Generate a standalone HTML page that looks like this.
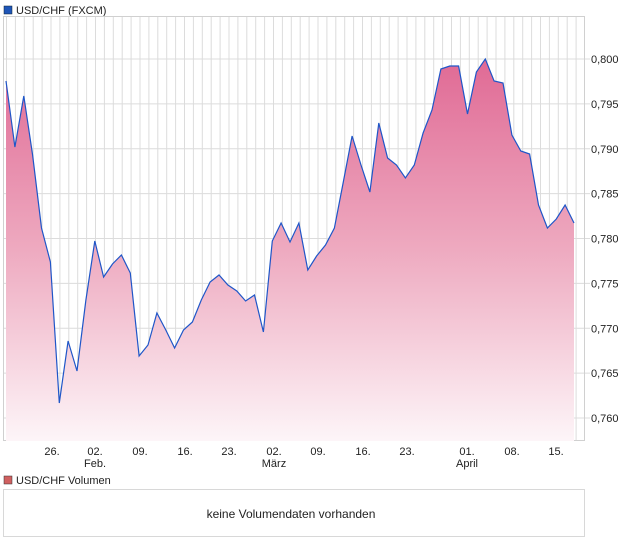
<!DOCTYPE html>
<html><head><meta charset="utf-8"><style>
body{margin:0;width:620px;height:546px;background:#fff;font-family:"Liberation Sans",sans-serif;overflow:hidden}
svg{position:absolute;left:0;top:0}
</style></head><body>
<svg width="620" height="546" viewBox="0 0 620 546" font-family="Liberation Sans, sans-serif" font-size="11" fill="#222">
<defs>
<linearGradient id="g" x1="0" y1="59" x2="0" y2="441" gradientUnits="userSpaceOnUse">
<stop offset="0" stop-color="#e06a95"/>
<stop offset="0.5" stop-color="#eeaac0"/>
<stop offset="1" stop-color="#fdf5f8"/>
</linearGradient>
</defs>
<rect x="4" y="6" width="8" height="8" fill="#1f56b8" stroke="#123" stroke-width="0.5"/>
<text x="16" y="14">USD/CHF (FXCM)</text>
<g stroke="#dcdcdc" stroke-width="1" id="grid"></g>
<rect x="3.5" y="16.5" width="581" height="424" fill="none" stroke="#d0d0d0"/>
<path id="area" fill="url(#g)"/>
<path id="line" fill="none" stroke="#1f56c8" stroke-width="1.2"/>
<g font-size="11" id="ylab"></g>
<g text-anchor="middle" font-size="11">
<text x="52" y="455">26.</text><text x="95" y="455">02.</text><text x="95" y="467">Feb.</text>
<text x="140" y="455">09.</text><text x="185" y="455">16.</text><text x="229" y="455">23.</text>
<text x="274" y="455">02.</text><text x="274" y="467">März</text>
<text x="318" y="455">09.</text><text x="363" y="455">16.</text><text x="407" y="455">23.</text>
<text x="467" y="455">01.</text><text x="467" y="467">April</text>
<text x="512" y="455">08.</text><text x="556" y="455">15.</text>
</g>
<rect x="4" y="476" width="8" height="8" fill="#d06060" stroke="#333" stroke-width="0.5"/>
<text x="16" y="484">USD/CHF Volumen</text>
<rect x="3.5" y="489.5" width="581" height="47" fill="none" stroke="#d8d8d8"/>
<text x="291" y="518" text-anchor="middle" font-size="12">keine Volumendaten vorhanden</text>
</svg>
<script>
var ys=[81,147,96,155,228,262,403,341,371,300,241,277,264,255,273,356,345,313,330,348,330,322,300,282,275,285,291,301,295,332,241,223,242,223,270,256,245,228,182,136,165,192,123,158,165,178,165,133,110,69,66,66,114,72,59,81,83,135,151,154,205,228,219,205,223];
var xs=ys.map(function(_,i){return 6+i*(568/64);});
var d="M"+xs[0]+","+ys[0];for(var i=1;i<ys.length;i++)d+=" L"+xs[i].toFixed(1)+","+ys[i];
document.getElementById("line").setAttribute("d",d);
document.getElementById("area").setAttribute("d",d+" L"+xs[xs.length-1].toFixed(1)+",441 L6,441 Z");
var g=document.getElementById("grid"),ns="http://www.w3.org/2000/svg",s="";
for(var x=6.5;x<584;x+=8.9){s+='<line x1="'+x.toFixed(1)+'" y1="17" x2="'+x.toFixed(1)+'" y2="441"/>';}
var labs=["0,800","0,795","0,790","0,785","0,780","0,775","0,770","0,765","0,760"];var yl="";
for(var k=0;k<9;k++){var y=59+k*44.875;s+='<line x1="4" y1="'+y.toFixed(1)+'" x2="590" y2="'+y.toFixed(1)+'"/>';yl+='<text x="591" y="'+(y+4).toFixed(1)+'">'+labs[k]+'</text>';}
g.innerHTML=s;document.getElementById("ylab").innerHTML=yl;
</script>
</body></html>
